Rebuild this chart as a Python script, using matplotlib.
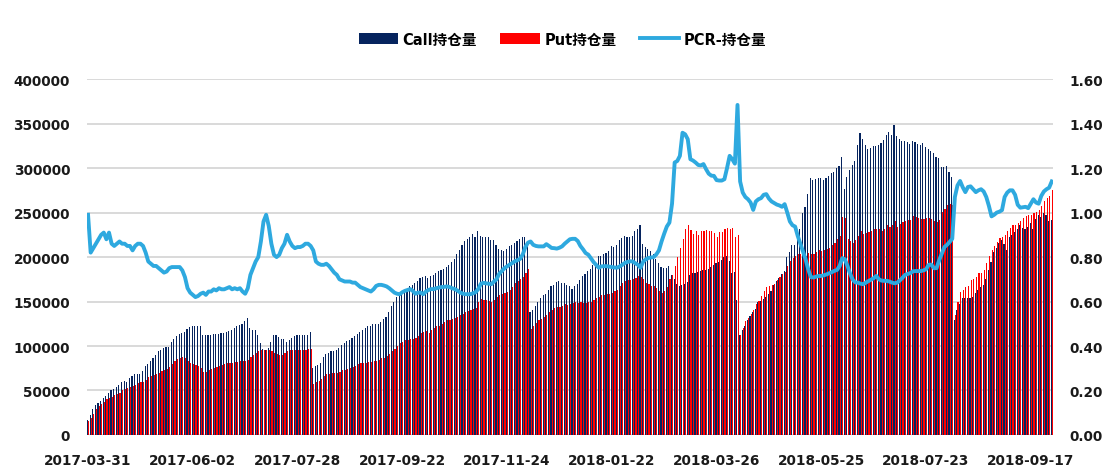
import numpy as np
import matplotlib
matplotlib.use("Agg")
import matplotlib.pyplot as plt

plt.rcParams["font.family"] = ["DejaVu Sans", "Noto Sans CJK SC"]
plt.rcParams["font.weight"] = "bold"

# daily open interest, 2017-03-31 .. 2018-09-17 (trading days)
call_oi = [
    16500, 23000, 29000, 34000, 36000, 38000, 42000, 44000, 47000, 51000,
    52000, 54000, 56000, 59000, 61000, 60000, 64000, 66000, 68000, 68000,
    69000, 72000, 77000, 80000, 83000, 86000, 90000, 94000, 96000, 98000,
    99000, 99000, 104000, 108000, 111000, 113000, 115000, 116000, 119000, 121000,
    122000, 122000, 122000, 122000, 112000, 112000, 112000, 112000, 113000, 114000,
    114000, 115000, 115000, 116000, 117000, 118000, 120000, 122000, 124000, 125000,
    128000, 131000, 120000, 118000, 118000, 112000, 103000, 97000, 96000, 98000,
    105000, 112000, 112000, 110000, 108000, 108000, 105000, 107000, 109000, 111000,
    112000, 112000, 112000, 112000, 112000, 116000, 75000, 78000, 79000, 81000,
    88000, 91000, 92000, 94000, 94000, 96000, 98000, 101000, 103000, 106000,
    107000, 109000, 111000, 114000, 116000, 118000, 120000, 122000, 123000, 125000,
    125000, 125000, 127000, 130000, 133000, 138000, 145000, 150000, 155000, 157000,
    159000, 162000, 164000, 167000, 169000, 171000, 173000, 176000, 178000, 179000,
    177000, 179000, 180000, 182000, 184000, 186000, 187000, 189000, 191000, 194000,
    198000, 203000, 208000, 213000, 218000, 220000, 223000, 226000, 223000, 229000,
    224000, 222000, 222000, 222000, 219000, 219000, 214000, 209000, 208000, 207000,
    209000, 212000, 214000, 216000, 218000, 220000, 222000, 223000, 218000, 138000,
    141000, 145000, 149000, 154000, 157000, 159000, 163000, 168000, 169000, 172000,
    173000, 171000, 171000, 169000, 167000, 164000, 167000, 170000, 174000, 179000,
    181000, 184000, 187000, 191000, 195000, 201000, 201000, 203000, 205000, 207000,
    212000, 211000, 214000, 219000, 221000, 224000, 223000, 223000, 224000, 229000,
    232000, 236000, 215000, 211000, 209000, 207000, 203000, 198000, 193000, 189000,
    188000, 188000, 190000, 180000, 175000, 170000, 168000, 169000, 170000, 172000,
    180000, 182000, 182000, 183000, 184000, 185000, 186000, 187000, 189000, 191000,
    193000, 195000, 197000, 200000, 201000, 196000, 182000, 183000, 152000, 112000,
    118000, 123000, 129000, 134000, 138000, 142000, 149000, 151000, 153000, 155000,
    158000, 162000, 169000, 173000, 177000, 181000, 184000, 200000, 206000, 214000,
    214000, 222000, 232000, 250000, 256000, 271000, 289000, 287000, 288000, 289000,
    289000, 287000, 289000, 291000, 294000, 296000, 300000, 302000, 312000, 276000,
    290000, 298000, 304000, 308000, 326000, 340000, 333000, 326000, 321000, 323000,
    325000, 325000, 326000, 328000, 332000, 337000, 341000, 337000, 348000, 336000,
    333000, 331000, 330000, 329000, 327000, 331000, 329000, 327000, 326000, 328000,
    324000, 321000, 319000, 317000, 313000, 311000, 301000, 301000, 302000, 296000,
    290000, 129000, 140000, 147000, 154000, 154000, 154000, 154000, 155000, 160000,
    163000, 166000, 169000, 175000, 186000, 195000, 206000, 210000, 216000, 219000,
    215000, 208000, 222000, 225000, 228000, 232000, 236000, 233000, 232000, 234000,
    238000, 231000, 243000, 247000, 245000, 250000, 247000, 240000, 242000,
]

put_oi = [
    16000, 19000, 24000, 29000, 33000, 35000, 37000, 40000, 42000, 43000,
    45000, 46000, 47000, 50000, 52000, 53000, 54000, 55000, 56000, 58000,
    59000, 59000, 62000, 65000, 66000, 67000, 69000, 70000, 72000, 73000,
    74000, 76000, 80000, 83000, 85000, 87000, 88000, 86000, 83000, 81000,
    80000, 79000, 77000, 75000, 71000, 71000, 73000, 74000, 75000, 76000,
    77000, 79000, 80000, 81000, 81000, 81000, 82000, 82000, 83000, 83000,
    83000, 84000, 88000, 90000, 92000, 94000, 95000, 96000, 96000, 95000,
    94000, 92000, 91000, 90000, 90000, 92000, 94000, 95000, 95000, 95000,
    95000, 96000, 96000, 96000, 97000, 97000, 57000, 60000, 61000, 63000,
    66000, 68000, 69000, 70000, 70000, 70000, 71000, 73000, 73000, 74000,
    75000, 76000, 78000, 80000, 81000, 81000, 81000, 82000, 82000, 83000,
    83000, 84000, 86000, 87000, 89000, 91000, 94000, 97000, 100000, 103000,
    105000, 107000, 107000, 108000, 108000, 109000, 111000, 115000, 116000, 117000,
    115000, 118000, 120000, 122000, 123000, 125000, 127000, 129000, 129000, 130000,
    132000, 133000, 135000, 136000, 138000, 139000, 141000, 142000, 143000, 149000,
    153000, 152000, 152000, 151000, 150000, 152000, 155000, 157000, 158000, 160000,
    161000, 163000, 166000, 171000, 173000, 175000, 178000, 182000, 187000, 119000,
    122000, 126000, 129000, 130000, 133000, 135000, 138000, 141000, 143000, 144000,
    144000, 145000, 147000, 146000, 147000, 148000, 149000, 148000, 149000, 148000,
    148000, 149000, 150000, 152000, 154000, 155000, 157000, 157000, 158000, 158000,
    160000, 162000, 163000, 167000, 171000, 173000, 174000, 174000, 175000, 177000,
    179000, 178000, 175000, 171000, 170000, 168000, 167000, 165000, 162000, 160000,
    162000, 166000, 175000, 180000, 190000, 200000, 210000, 220000, 232000, 236000,
    230000, 226000, 229000, 225000, 229000, 229000, 230000, 229000, 229000, 227000,
    223000, 228000, 228000, 231000, 233000, 232000, 233000, 223000, 225000, 112000,
    120000, 128000, 132000, 136000, 141000, 147000, 151000, 156000, 162000, 166000,
    168000, 169000, 170000, 174000, 178000, 181000, 183000, 190000, 196000, 199000,
    201000, 203000, 203000, 202000, 201000, 204000, 203000, 203000, 206000, 208000,
    207000, 208000, 209000, 210000, 213000, 216000, 220000, 224000, 245000, 244000,
    220000, 218000, 216000, 219000, 224000, 229000, 226000, 227000, 228000, 229000,
    231000, 232000, 231000, 229000, 232000, 236000, 234000, 236000, 241000, 234000,
    237000, 239000, 240000, 242000, 242000, 246000, 245000, 244000, 243000, 243000,
    244000, 244000, 243000, 240000, 239000, 242000, 251000, 254000, 259000, 260000,
    258000, 135000, 150000, 161000, 163000, 166000, 168000, 174000, 175000, 178000,
    182000, 182000, 185000, 193000, 201000, 208000, 212000, 217000, 221000, 222000,
    225000, 229000, 233000, 236000, 236000, 238000, 241000, 244000, 246000, 247000,
    247000, 249000, 251000, 253000, 257000, 263000, 266000, 269000, 275000,
]

pcr = [
    0.99, 0.82, 0.84, 0.86, 0.88, 0.90, 0.91, 0.88, 0.91, 0.86,
    0.85, 0.86, 0.87, 0.86, 0.86, 0.85, 0.85, 0.83, 0.85, 0.86,
    0.86, 0.85, 0.82, 0.78, 0.77, 0.76, 0.76, 0.75, 0.74, 0.73,
    0.735, 0.75, 0.755, 0.755, 0.755, 0.755, 0.74, 0.71, 0.66, 0.64,
    0.63, 0.62, 0.625, 0.635, 0.64, 0.63, 0.645, 0.645, 0.655, 0.65,
    0.66, 0.655, 0.655, 0.66, 0.665, 0.655, 0.66, 0.655, 0.66, 0.645,
    0.635, 0.66, 0.72, 0.75, 0.78, 0.80, 0.87, 0.96, 0.99, 0.94,
    0.86, 0.81, 0.80, 0.81, 0.84, 0.86, 0.90, 0.87, 0.85, 0.84,
    0.845, 0.845, 0.85, 0.86, 0.86, 0.85, 0.83, 0.78, 0.77, 0.765,
    0.765, 0.77, 0.76, 0.745, 0.73, 0.72, 0.70, 0.695, 0.69, 0.69,
    0.69, 0.685, 0.685, 0.675, 0.665, 0.66, 0.655, 0.65, 0.645, 0.655,
    0.67, 0.675, 0.675, 0.672, 0.668, 0.66, 0.65, 0.64, 0.635, 0.633,
    0.642, 0.648, 0.652, 0.656, 0.648, 0.635, 0.64, 0.64, 0.633, 0.645,
    0.652, 0.656, 0.656, 0.66, 0.663, 0.665, 0.666, 0.668, 0.665, 0.66,
    0.656, 0.65, 0.641, 0.636, 0.633, 0.633, 0.633, 0.637, 0.642, 0.656,
    0.68, 0.684, 0.682, 0.68, 0.678, 0.69, 0.70, 0.725, 0.737, 0.75,
    0.758, 0.766, 0.773, 0.781, 0.786, 0.792, 0.812, 0.845, 0.865, 0.87,
    0.855, 0.85, 0.848, 0.848, 0.848, 0.858, 0.85, 0.841, 0.84, 0.838,
    0.842, 0.848, 0.86, 0.87, 0.88, 0.882, 0.882, 0.872, 0.85, 0.835,
    0.818, 0.811, 0.795, 0.778, 0.765, 0.752, 0.758, 0.759, 0.759, 0.757,
    0.755, 0.753, 0.752, 0.758, 0.765, 0.774, 0.778, 0.781, 0.78, 0.772,
    0.765, 0.752, 0.78, 0.79, 0.796, 0.798, 0.80, 0.812, 0.83, 0.87,
    0.905, 0.937, 0.955, 1.04, 1.225, 1.232, 1.255, 1.359, 1.352, 1.33,
    1.24, 1.234, 1.225, 1.214, 1.212, 1.218, 1.195, 1.175, 1.166, 1.165,
    1.146, 1.144, 1.144, 1.15, 1.2, 1.255, 1.24, 1.22, 1.484, 1.14,
    1.09, 1.07, 1.06, 1.045, 1.012, 1.05, 1.06, 1.065, 1.08, 1.083,
    1.063, 1.05, 1.043, 1.036, 1.032, 1.026, 1.038, 1.0, 0.96, 0.943,
    0.937, 0.895, 0.86, 0.825, 0.79, 0.745, 0.71, 0.708, 0.712, 0.715,
    0.715, 0.718, 0.722, 0.727, 0.732, 0.738, 0.742, 0.76, 0.795, 0.79,
    0.76, 0.725, 0.698, 0.686, 0.685, 0.68, 0.678, 0.685, 0.692, 0.698,
    0.705, 0.715, 0.70, 0.694, 0.693, 0.693, 0.69, 0.685, 0.682, 0.685,
    0.695, 0.707, 0.72, 0.724, 0.728, 0.736, 0.737, 0.737, 0.737, 0.74,
    0.745, 0.765, 0.766, 0.75, 0.75, 0.785, 0.815, 0.845, 0.855, 0.868,
    0.882, 1.07, 1.122, 1.142, 1.114, 1.092, 1.115, 1.118, 1.105, 1.092,
    1.1, 1.105, 1.095, 1.07, 1.03, 0.983, 0.99, 1.0, 1.004, 1.011,
    1.07, 1.09, 1.1, 1.1, 1.08, 1.035, 1.022, 1.024, 1.026, 1.02,
    1.04, 1.06, 1.045, 1.04, 1.075, 1.095, 1.105, 1.112, 1.14,
]

tick_labels = [
    "2017-03-31", "2017-06-02", "2017-07-28", "2017-09-22", "2017-11-24",
    "2018-01-22", "2018-03-26", "2018-05-25", "2018-07-23", "2018-09-17",
]
tick_every = 40

CALL_COLOR = "#06245E"
PUT_COLOR = "#FF0000"
PCR_COLOR = "#2EA9DF"
TEXT_COLOR = "#1A1A1A"
GRID_COLOR = "#D9D9D9"

n = len(call_oi)
x = np.arange(n)

fig = plt.figure(figsize=(11.05, 4.77), dpi=100)
ax = fig.add_axes([0.0785, 0.086, 0.8745, 0.746])
ax2 = ax.twinx()

bw = 0.43
ax.bar(x - 0.22, call_oi, width=bw, color=CALL_COLOR, linewidth=0, label="Call持仓量", zorder=2)
ax.bar(x + 0.22, put_oi, width=bw, color=PUT_COLOR, linewidth=0, label="Put持仓量", zorder=2)
ax2.plot(x, pcr, color=PCR_COLOR, lw=2.8, solid_joinstyle="round", label="PCR-持仓量", zorder=3)

ax.set_xlim(-0.5, n - 0.5)
ax.set_ylim(0, 400000)
ax.set_yticks(np.arange(0, 400001, 50000))
ax2.set_ylim(0, 1.6)
ax2.set_yticks(np.arange(0, 1.61, 0.2))
ax2.set_yticklabels([f"{v:.2f}" for v in np.arange(0, 1.61, 0.2)])

ax.set_xticks(x[::tick_every])
ax.set_xticklabels(tick_labels)

ax.grid(axis="y", color=GRID_COLOR, lw=1.4, zorder=0)
ax.set_axisbelow(True)
for a in (ax, ax2):
    for s in a.spines.values():
        s.set_visible(False)
    a.tick_params(length=0, labelsize=9.8, colors=TEXT_COLOR, pad=12)
ax.tick_params(axis="x", pad=13)

h1, l1 = ax.get_legend_handles_labels()
h2, l2 = ax2.get_legend_handles_labels()
fig.legend(h1 + h2, l1 + l2, loc="center", bbox_to_anchor=(0.509, 0.916), ncol=3,
           frameon=False, fontsize=10.5, handlelength=2.7, handleheight=0.75,
           columnspacing=1.6, handletextpad=0.3)

fig.savefig("out.png", dpi=100)
